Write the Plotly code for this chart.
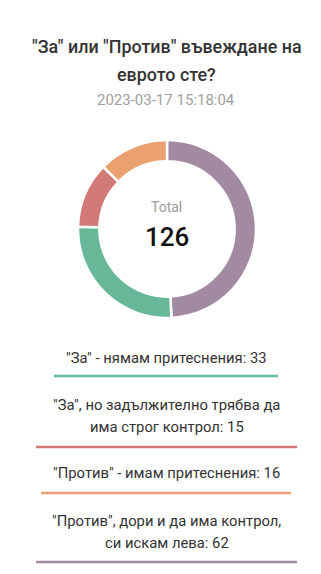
import plotly.graph_objects as go

title_lines = ['"За" или "Против" въвеждане на', 'еврото сте?']
subtitle = "2023-03-17 15:18:04"
labels = [
    '"За" - нямам притеснения',
    '"За", но задължително трябва да\nима строг контрол',
    '"Против" - имам притеснения',
    '"Против", дори и да има контрол,\nси искам лева',
]
values = [33, 15, 16, 62]
colors = ["#66b898", "#d27a77", "#eba16f", "#a28ba2"]
pie_order = [3, 0, 1, 2]

W, H = 321, 574
FONT = "Roboto"
CX = 167 / W


def py(px):
    return 1 - px / H


fig = go.Figure()
fig.add_trace(go.Pie(
    labels=[labels[i] for i in pie_order],
    values=[values[i] for i in pie_order],
    marker=dict(colors=[colors[i] for i in pie_order], line=dict(color="white", width=2.5)),
    hole=0.76,
    sort=False,
    direction="clockwise",
    rotation=0,
    textinfo="none",
    hoverinfo="label+value",
    showlegend=False,
    domain=dict(x=[78 / W, 256 / W], y=[py(318), py(140)]),
))

ann = []
for t, y in zip(title_lines, [47, 74]):
    ann.append(dict(text=t, x=CX, y=py(y), xref="paper", yref="paper", showarrow=False,
                    xanchor="center", yanchor="middle",
                    font=dict(family=FONT, size=17.9, color="#333333", weight=500)))
ann.append(dict(text=subtitle, x=165.5 / W, y=py(100), xref="paper", yref="paper", showarrow=False,
                xanchor="center", yanchor="middle", font=dict(family=FONT, size=15, color="#a0a0a0")))
ann.append(dict(text="Total", x=CX, y=py(207), xref="paper", yref="paper", showarrow=False,
                xanchor="center", yanchor="middle", font=dict(family=FONT, size=14, color="#9a9a9a")))
ann.append(dict(text=str(sum(values)), x=CX, y=py(237), xref="paper", yref="paper", showarrow=False,
                xanchor="center", yanchor="middle", font=dict(family=FONT, size=26, color="#111111", weight=500)))

# legend layout: text line centers and underline geometry (pixels)
text_rows = [[358], [405, 427], [473], [521, 543]]
underline = [(376, 54, 278), (447, 36, 297), (493, 41, 291), (562, 36, 297)]

shapes = []
for i, (lab, v) in enumerate(zip(labels, values)):
    lines = (lab + ": " + str(v)).split("\n")
    for ln, y in zip(lines, text_rows[i]):
        ann.append(dict(text=ln, x=166.5 / W, y=py(y), xref="paper", yref="paper", showarrow=False,
                        xanchor="center", yanchor="middle",
                        font=dict(family=FONT, size=14.8, color="#333333")))
    uy, ux0, ux1 = underline[i]
    shapes.append(dict(type="line", xref="paper", yref="paper", x0=ux0 / W, x1=ux1 / W,
                       y0=py(uy), y1=py(uy), line=dict(color=colors[i], width=2.5)))

fig.update_layout(
    width=W, height=H,
    margin=dict(l=0, r=0, t=0, b=0),
    paper_bgcolor="white", plot_bgcolor="white",
    annotations=ann, shapes=shapes,
)
fig.write_html("out.html")
